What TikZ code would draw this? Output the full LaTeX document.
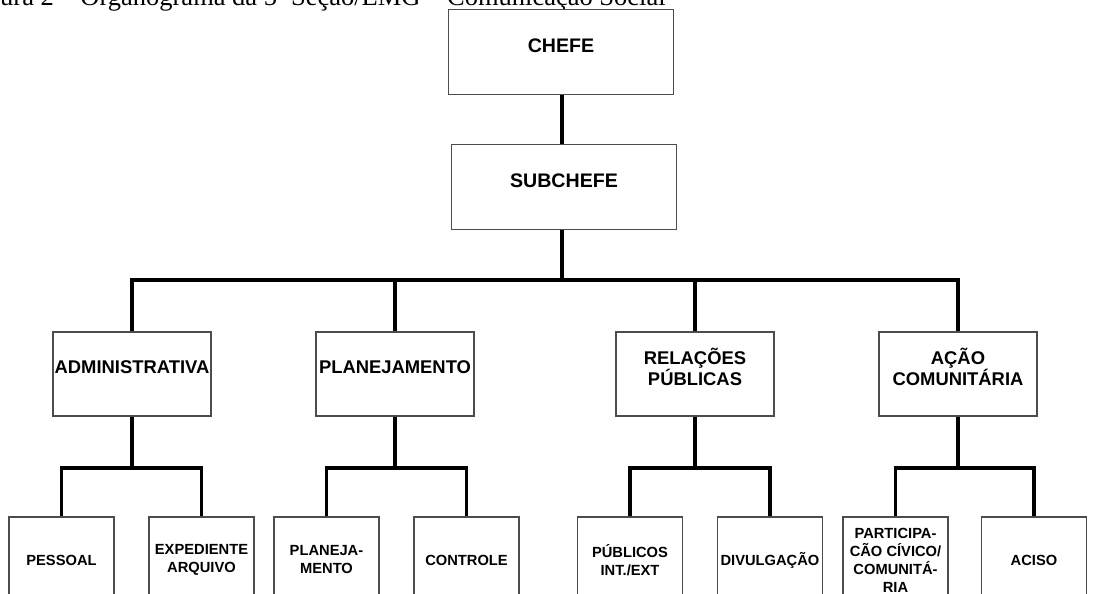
\documentclass[tikz,border=0pt]{standalone}
\usepackage{fontspec}
\setmainfont{Liberation Serif}
\setsansfont{Liberation Sans}
\usetikzlibrary{positioning}

\tikzset{
  box/.style={draw=black!70, line width=1.2pt, fill=white, rectangle, inner sep=0pt},
  bigbox/.style={box, minimum width=225pt, minimum height=85pt},
  midbox/.style={box, minimum width=158pt, minimum height=84pt},
  lowbox/.style={box, minimum width=105pt, minimum height=86pt, align=center,
    font=\sffamily\bfseries\fontsize{14.7}{18}\selectfont},
  bigtxt/.style={inner sep=0pt, font=\sffamily\bfseries\fontsize{19.6}{22}\selectfont},
  midtxt/.style={inner sep=0pt, align=center, font=\sffamily\bfseries\fontsize{18.4}{20.7}\selectfont},
  link/.style={line width=3.5pt}
}

\begin{document}
\begin{tikzpicture}[x=1pt,y=-1pt]
\useasboundingbox (0,0) rectangle (1120,594);
\clip (0,0) rectangle (1120,594);

\node[anchor=base west, inner sep=0pt, font=\fontsize{26.5}{30}\selectfont] (title) at (0,6)
  {ura 2 -- Organograma da 5ª Seção/EMG -- Comunicação Social};

% chefia
\node[bigbox] (chefe) at (561,52) {};
\node[bigtxt] (chefet) at ([yshift=6pt]chefe) {CHEFE};
\node[bigbox] (sub) at (564,187) {};
\node[bigtxt] (subt) at ([yshift=6pt]sub) {SUBCHEFE};

% secoes
\node[midbox] (adm) at (132,374) {};
\node[midtxt] (admt) at ([yshift=7pt]adm) {ADMINISTRATIVA};
\node[midbox] (plan) at (395,374) {};
\node[midtxt] (plant) at ([yshift=7pt]plan) {PLANEJAMENTO};
\node[midbox] (rel) at (695,374) {};
\node[midtxt] (relt) at ([yshift=7pt]rel) {RELAÇÕES\\PÚBLICAS};
\node[midbox] (acao) at (958,374) {};
\node[midtxt] (acaot) at ([yshift=7pt]acao) {AÇÃO\\COMUNITÁRIA};

% subsecoes
\node[lowbox] (pess) at (61.5,560) {PESSOAL};
\node[lowbox] (expd) at (201.5,560) {EXPEDIENTE\\ARQUIVO};
\node[lowbox] (plnj) at (326.5,560) {PLANEJA-\\MENTO};
\node[lowbox] (ctrl) at (466.5,560) {CONTROLE};
\node[lowbox] (pub) at (630,560) {PÚBLICOS\\INT./EXT};
\node[lowbox] (divg) at (770,560) {DIVULGAÇÃO};
\node[lowbox] (part) at (895.5,560) {PARTICIPA-\\CÃO CÍVICO/\\COMUNITÁ-\\RIA};
\node[lowbox] (aciso) at (1034,560) {ACISO};

% ligacoes
\coordinate (bus) at (562,280);
\draw[link] (chefe.south -| bus) -- (sub.north -| bus);
\draw[link] (sub.south -| bus) -- (bus);
\draw[link] (adm.north) |- (bus) -| (acao.north);
\draw[link] (plan.north) -- (plan.north |- bus);
\draw[link] (rel.north) -- (rel.north |- bus);
\foreach \p/\a/\b in {adm/pess/expd, plan/plnj/ctrl, rel/pub/divg, acao/part/aciso}
{
  \draw[link] (\p.south) -- (\p.south |- 0,468);
  \draw[link] (\a.north) |- (\p.south |- 0,468) -| (\b.north);
}
\end{tikzpicture}
\end{document}
